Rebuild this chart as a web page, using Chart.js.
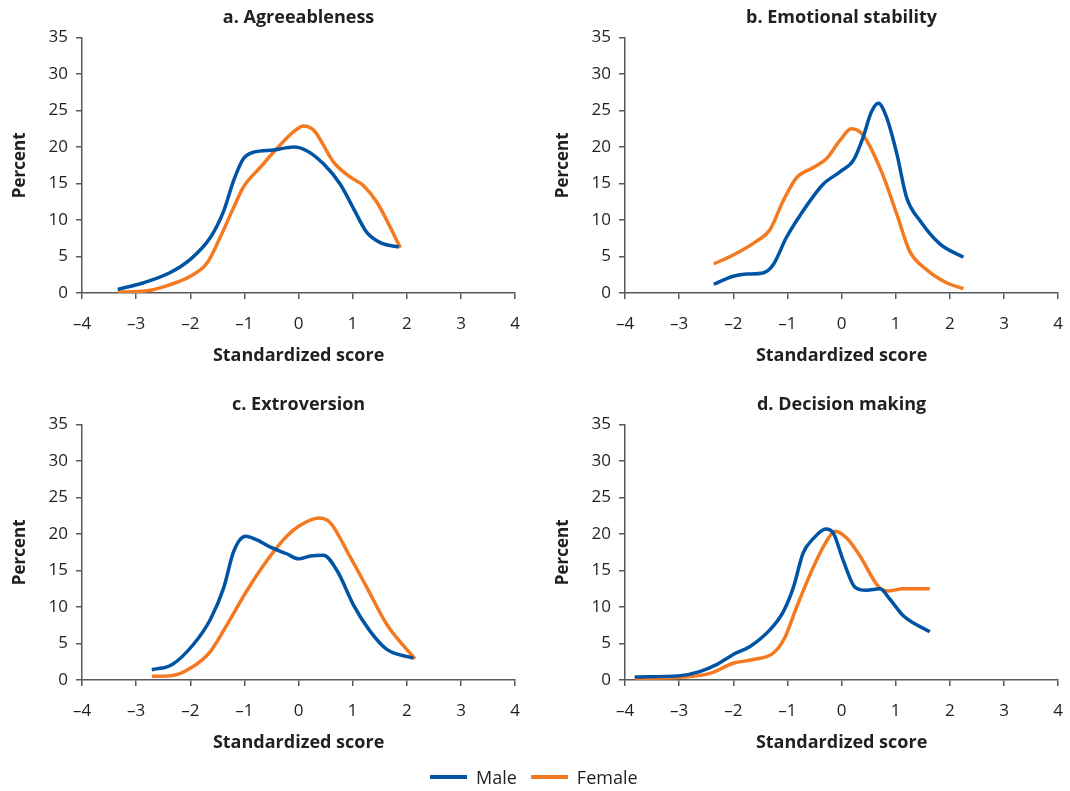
<!DOCTYPE html>
<html>
<head>
<meta charset="utf-8">
<script src="https://cdn.jsdelivr.net/npm/chart.js@4"></script>
<style>
  html, body { overflow: hidden; }
  body { margin: 0; background: #fff; width: 1070px; height: 791px; position: relative; font-family: "Open Sans", sans-serif; }
  .panel { position: absolute; width: 535px; height: 380px; }
  .legend { position: absolute; top: 765px; left: 430px; display: flex; align-items: center; font-size: 18px; color: #231f20; }
  .swatch { display: inline-block; width: 37px; height: 4px; margin-right: 9px; }
</style>
</head>
<body>
<div class="panel" style="left:0;top:0"><canvas id="chartA"></canvas></div>
<div class="panel" style="left:543px;top:0"><canvas id="chartB"></canvas></div>
<div class="panel" style="left:0;top:387px"><canvas id="chartC"></canvas></div>
<div class="panel" style="left:543px;top:387px"><canvas id="chartD"></canvas></div>
<div class="legend">
  <span class="swatch" style="background:#0054a4"></span><span style="margin-right:14px">Male</span>
  <span class="swatch" style="background:#f47920"></span><span>Female</span>
</div>
<script>
// values: [standardized score, percent]
const titles = ['a. Agreeableness', 'b. Emotional stability', 'c. Extroversion', 'd. Decision making'];
const seriesNames = ['Male', 'Female'];
const xTicks = [-4, -3, -2, -1, 0, 1, 2, 3, 4];
const yTicks = [0, 5, 10, 15, 20, 25, 30, 35];

const agreeMale = [[-3.34,0.5],[-2.86,1.4],[-2.37,2.8],[-2.0,4.6],[-1.63,7.6],[-1.38,11.3],[-1.2,15.4],[-1.02,18.4],[-0.83,19.3],[-0.46,19.6],[-0.09,20.0],[0.15,19.5],[0.46,17.7],[0.77,14.9],[1.02,11.5],[1.26,8.3],[1.51,6.9],[1.85,6.3]];
const agreeFemale = [[-3.34,0.1],[-2.8,0.3],[-2.37,1.15],[-2.0,2.3],[-1.69,4.1],[-1.45,7.6],[-1.2,11.7],[-1.02,14.5],[-0.71,17.2],[-0.4,19.8],[-0.09,22.1],[0.09,22.9],[0.28,22.3],[0.65,17.9],[0.95,15.9],[1.2,14.7],[1.45,12.4],[1.88,6.2]];

const emoMale = [[-2.36,1.2],[-2.0,2.3],[-1.75,2.6],[-1.45,2.75],[-1.26,3.9],[-1.02,7.6],[-0.77,10.6],[-0.34,14.9],[-0.03,16.6],[0.22,18.2],[0.4,21.4],[0.55,24.8],[0.68,26.0],[0.83,24.1],[1.02,19.1],[1.2,13.1],[1.45,9.9],[1.82,6.7],[2.25,4.9]];
const emoFemale = [[-2.36,4.0],[-2.0,5.2],[-1.57,7.1],[-1.32,8.7],[-1.08,12.6],[-0.83,15.8],[-0.52,17.2],[-0.28,18.4],[-0.03,20.9],[0.18,22.5],[0.4,21.6],[0.74,16.6],[1.02,10.8],[1.26,5.7],[1.57,3.2],[1.94,1.4],[2.25,0.6]];

const extroMale = [[-2.71,1.4],[-2.34,2.1],[-1.94,4.9],[-1.63,8.3],[-1.38,12.7],[-1.2,17.6],[-0.98,19.7],[-0.77,19.2],[-0.52,18.2],[-0.22,17.3],[0.0,16.6],[0.22,17.0],[0.46,17.1],[0.71,15.0],[1.02,10.2],[1.32,6.7],[1.63,4.2],[2.12,3.0]];
const extroFemale = [[-2.71,0.5],[-2.34,0.6],[-2.0,1.6],[-1.63,3.9],[-1.32,7.6],[-0.95,12.3],[-0.58,16.4],[-0.22,19.7],[0.03,21.2],[0.37,22.2],[0.58,21.6],[0.95,16.9],[1.26,12.7],[1.63,7.6],[2.15,2.9]];

const decisionMale = [[-3.82,0.4],[-2.98,0.6],[-2.62,1.15],[-2.31,2.1],[-2.0,3.5],[-1.69,4.6],[-1.32,6.9],[-1.08,9.3],[-0.89,12.7],[-0.71,17.4],[-0.52,19.4],[-0.29,20.7],[-0.15,20.1],[0.03,16.4],[0.25,12.7],[0.46,12.3],[0.71,12.5],[0.89,11.1],[1.14,8.8],[1.63,6.6]];
const decisionFemale = [[-3.82,0.2],[-2.92,0.4],[-2.43,0.9],[-2.0,2.3],[-1.63,2.8],[-1.26,3.7],[-1.05,5.8],[-0.83,10.0],[-0.52,15.5],[-0.28,19.0],[-0.12,20.4],[0.09,19.5],[0.34,17.0],[0.68,12.8],[0.86,12.2],[1.14,12.5],[1.63,12.5]];

const BLUE = '#0054a4';
const ORANGE = '#f47920';
const AXIS = '#58595b';
const TEXT = '#231f20';
const FONT = '"Open Sans", sans-serif';

function toPoints(arr) {
  return arr.map(p => ({ x: p[0], y: p[1] }));
}

function makeChart(id, title, male, female) {
  const ctx = document.getElementById(id).getContext('2d');
  return new Chart(ctx, {
    type: 'line',
    data: {
      datasets: [
        { label: seriesNames[0], data: toPoints(male), borderColor: BLUE, borderWidth: 3.5, pointRadius: 0, cubicInterpolationMode: 'monotone', fill: false },
        { label: seriesNames[1], data: toPoints(female), borderColor: ORANGE, borderWidth: 3.5, pointRadius: 0, cubicInterpolationMode: 'monotone', fill: false }
      ]
    },
    options: {
      responsive: false,
      animation: false,
      layout: { padding: 0 },
      plugins: {
        legend: { display: false },
        tooltip: { enabled: false },
        title: {
          display: true, text: title, color: TEXT, fullSize: false,
          font: { family: FONT, size: 18, weight: 'bold' },
          padding: { top: 7, bottom: 9 }
        }
      },
      scales: {
        x: {
          type: 'linear', min: -4, max: 4,
          afterBuildTicks: s => { s.ticks = xTicks.map(v => ({ value: v })); },
          afterFit: s => { s.height = 87; },
          border: { color: AXIS, width: 1.5 },
          grid: { drawOnChartArea: false, drawTicks: true, tickLength: 6, color: AXIS, lineWidth: 1.5 },
          ticks: {
            color: TEXT, font: { family: FONT, size: 17 }, padding: 15,
            callback: v => v < 0 ? '\u2013' + Math.abs(v) : String(v)
          },
          title: { display: true, text: 'Standardized score', color: TEXT, font: { family: FONT, size: 18, weight: 'bold' }, padding: { top: 0, bottom: 13 } }
        },
        y: {
          min: 0, max: 35,
          afterBuildTicks: s => { s.ticks = yTicks.map(v => ({ value: v })); },
          afterFit: s => { s.width = 82; },
          border: { color: AXIS, width: 1.5 },
          grid: { drawOnChartArea: false, drawTicks: true, tickLength: 6, color: AXIS, lineWidth: 1.5 },
          ticks: { color: TEXT, font: { family: FONT, size: 17 }, padding: 8 },
          title: { display: true, text: 'Percent', color: TEXT, font: { family: FONT, size: 17, weight: 'bold' }, padding: { top: 10, bottom: 0 } }
        }
      }
    }
  });
}

function sizeCanvas(id) {
  const c = document.getElementById(id);
  c.width = 535; c.height = 380;
  c.style.width = '535px'; c.style.height = '380px';
}
['chartA', 'chartB', 'chartC', 'chartD'].forEach(sizeCanvas);

makeChart('chartA', titles[0], agreeMale, agreeFemale);
makeChart('chartB', titles[1], emoMale, emoFemale);
makeChart('chartC', titles[2], extroMale, extroFemale);
makeChart('chartD', titles[3], decisionMale, decisionFemale);
</script>
</body>
</html>
